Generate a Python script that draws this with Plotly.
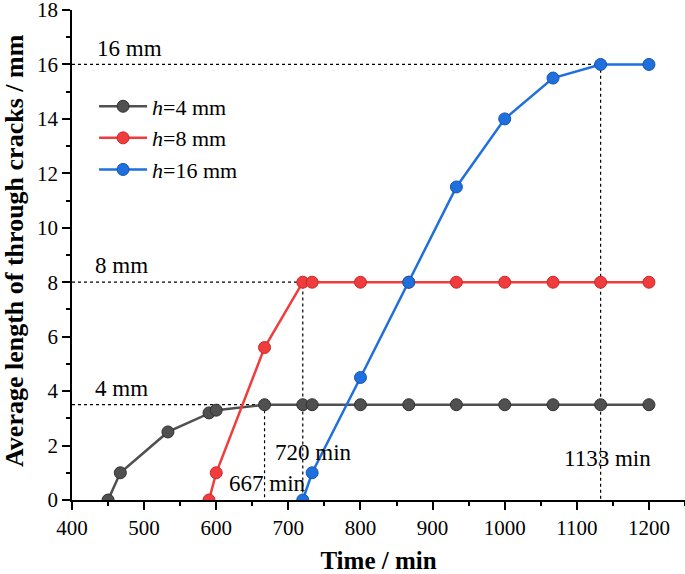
import plotly.graph_objects as go

x4 = [450, 467, 533, 590, 600, 667, 720, 733, 800, 867, 933, 1000, 1067, 1133, 1200]
y4 = [0, 1, 2.5, 3.2, 3.3, 3.5, 3.5, 3.5, 3.5, 3.5, 3.5, 3.5, 3.5, 3.5, 3.5]
x8 = [590, 600, 667, 720, 733, 800, 867, 933, 1000, 1067, 1133, 1200]
y8 = [0, 1, 5.6, 8, 8, 8, 8, 8, 8, 8, 8, 8]
x16 = [720, 733, 800, 867, 933, 1000, 1067, 1133, 1200]
y16 = [0, 1, 4.5, 8, 11.5, 14, 15.5, 16, 16]

names = ["<i>h</i>=4 mm", "<i>h</i>=8 mm", "<i>h</i>=16 mm"]
colors = ["#505050", "#f03c3c", "#1f6fdc"]
edges = ["#303030", "#c82828", "#1455b0"]

# reference guides: (level, time, label)
guide_levels = [16, 8, 3.5]
guide_times = [1133, 720, 667]
level_labels = ["16 mm", "8 mm", "4 mm"]
time_labels = ["1133 min", "720 min", "667 min"]

font = "Liberation Serif, Times New Roman, serif"
fig = go.Figure()

for lv, t in zip(guide_levels, guide_times):
    fig.add_trace(go.Scatter(x=[400, t, t], y=[lv, lv, 0], mode="lines",
                             line=dict(color="black", width=1.2, dash="dot"),
                             showlegend=False, hoverinfo="skip"))

for xs, ys, n, c, e in zip([x4, x8, x16], [y4, y8, y16], names, colors, edges):
    fig.add_trace(go.Scatter(x=xs, y=ys, mode="lines+markers", name=n,
                             line=dict(color=c, width=2.5),
                             marker=dict(size=12, color=c, line=dict(color=e, width=1))))

ann = [
    (480, 16.6, level_labels[0]),
    (469, 8.6, level_labels[1]),
    (469, 4.1, level_labels[2]),
    (1143, 1.54, time_labels[0]),
    (735, 1.76, time_labels[1]),
    (671, 0.62, time_labels[2]),
]
for ax_, ay_, tx in ann:
    fig.add_annotation(x=ax_, y=ay_, text=tx, showarrow=False,
                       font=dict(family=font, size=23, color="black"))

# y-axis title as rotated annotation for precise placement
fig.add_annotation(xref="paper", yref="paper", x=0, y=0.5, xanchor="center", yanchor="middle",
                   xshift=-58, yshift=4, textangle=-90, showarrow=False,
                   text="<b>Average length of through cracks / mm</b>",
                   font=dict(family=font, size=26, color="black"))

axis_common = dict(showline=True, linecolor="black", linewidth=1.5, ticks="outside",
                   ticklen=8, tickwidth=1.5, tickcolor="black", showgrid=False,
                   zeroline=False, tickfont=dict(family=font, size=21, color="black"),
                   mirror=False, automargin=False, ticklabeloverflow="allow")

fig.update_xaxes(range=[400, 1250], dtick=100, tick0=400,
                 minor=dict(dtick=50, ticks="outside", ticklen=4, tickwidth=1.5, tickcolor="black"),
                 title=dict(text="<b>Time / min</b>", font=dict(family=font, size=25, color="black"),
                            standoff=16),
                 **axis_common)
fig.update_yaxes(range=[0, 18], dtick=2, tick0=0,
                 minor=dict(dtick=1, ticks="outside", ticklen=4, tickwidth=1.5, tickcolor="black"),
                 **axis_common)

fig.update_layout(width=685, height=574, plot_bgcolor="white", paper_bgcolor="white",
                  margin=dict(l=72, r=0, t=10, b=74),
                  legend=dict(x=0.036, y=0.846, xanchor="left", yanchor="top",
                              font=dict(family=font, size=22, color="black"),
                              bgcolor="rgba(0,0,0,0)", tracegroupgap=0, itemwidth=48),
                  font=dict(family=font))

fig.write_html("out.html", config={"displayModeBar": False},
               post_script="document.body.style.margin='0';document.body.style.padding='0';")
